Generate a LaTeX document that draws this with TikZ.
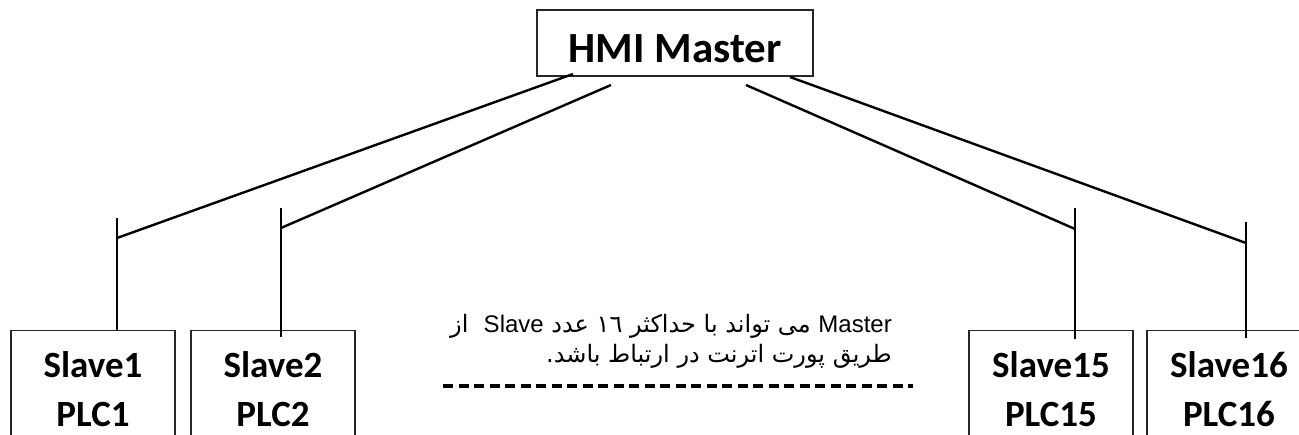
\documentclass[tikz,border=0pt]{standalone}
\usepackage{fontspec}
\setmainfont{Carlito}
\newfontfamily\arabicfont[Script=Arabic]{DejaVu Sans}
\newfontfamily\latfont{Liberation Sans}
\TeXXeTstate=1
\begin{document}
\begin{tikzpicture}[x=1pt,y=-1pt,
  box/.style={draw=black!85, line width=1.2pt, inner sep=0pt},
  wire/.style={line width=2.4pt, black},
  lbl/.style={font=\bfseries\fontsize{37}{37}\selectfont, inner sep=0pt, anchor=base},
  slavebox/.style={box, minimum width=164pt, minimum height=130pt, anchor=north},
]
\useasboundingbox (0,0) rectangle (1299,434);
% master
\node[box, minimum width=276pt, minimum height=66pt, text height=38pt, text depth=0pt,
      font=\bfseries\fontsize{43}{43}\selectfont] (master) at (675,43) {HMI Master};
% slave boxes
\node[slavebox] (s1) at (93,330) {};
\node[slavebox] (s2) at (273,330) {};
\node[slavebox] (s15) at (1051,330) {};
\node[slavebox] (s16) at (1229,330) {};
% labels
\node[lbl] (s1a) at (93,377) {Slave1};
\node[lbl] (s1b) at (93,426) {PLC1};
\node[lbl] (s2a) at (273,377) {Slave2};
\node[lbl] (s2b) at (273,426) {PLC2};
\node[lbl] (s15a) at (1051,377) {Slave15};
\node[lbl] (s15b) at (1051,426) {PLC15};
\node[lbl] (s16a) at (1229,377) {Slave16};
\node[lbl] (s16b) at (1229,426) {PLC16};
% stubs
\coordinate (t1) at (117,218); \coordinate (j1) at (117,238); \coordinate (b1) at (117,330);
\coordinate (t2) at (281,208); \coordinate (j2) at (281,228); \coordinate (b2) at (281,337);
\coordinate (t15) at (1075,208); \coordinate (j15) at (1075,229); \coordinate (b15) at (1075,339);
\coordinate (t16) at (1246,222); \coordinate (j16) at (1246,243); \coordinate (b16) at (1246,338);
\draw[wire] (t1) -- (b1);
\draw[wire] (t2) -- (b2);
\draw[wire] (t15) -- (b15);
\draw[wire] (t16) -- (b16);
% master attachment points
\coordinate (m1) at (573,74);
\coordinate (m2) at (611,85);
\coordinate (m15) at (746,85);
\coordinate (m16) at (790,77);
\draw[wire] (j1) -- (m1);
\draw[wire] (j2) -- (m2);
\draw[wire] (j15) -- (m15);
\draw[wire] (j16) -- (m16);
% note
\node[anchor=base east, inner sep=0pt, align=right,
      font=\arabicfont\fontsize{24}{30}\selectfont] (note) at (892,362)
  {\beginR{\latfont\fontsize{24}{30}\selectfont Master} می تواند با حداکثر ١٦ عدد {\latfont\fontsize{24}{30}\selectfont Slave}\ \ از\endR\\
   \beginR طریق پورت اترنت در ارتباط باشد.\endR};
\coordinate (d1) at (443,386);
\coordinate (d2) at (913,386);
\draw[line width=3.5pt, dash pattern=on 10pt off 5.5pt] (d1) -- (d2);
\end{tikzpicture}
\end{document}
